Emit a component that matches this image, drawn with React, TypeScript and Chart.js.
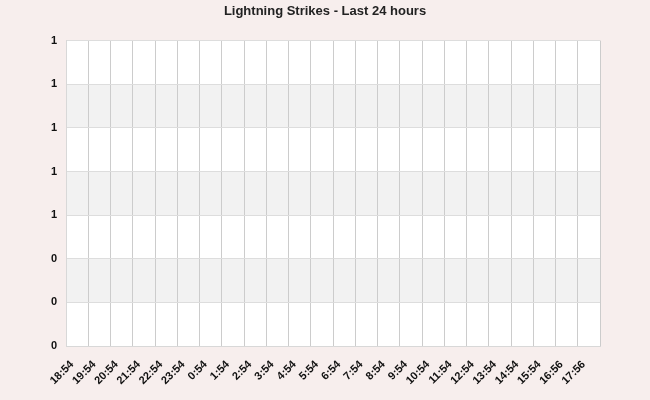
import React, { useEffect, useRef } from "react";
import { Chart, registerables } from "chart.js";

Chart.register(...registerables);

const title = "Lightning Strikes - Last 24 hours";
const hourLabels = [
  "18:54", "19:54", "20:54", "21:54", "22:54", "23:54", "0:54", "1:54",
  "2:54", "3:54", "4:54", "5:54", "6:54", "7:54", "8:54", "9:54",
  "10:54", "11:54", "12:54", "13:54", "14:54", "15:54", "16:56", "17:56", "",
];
const strikeCounts: (number | null)[] = [
  null, null, null, null, null, null, null, null, null, null, null, null,
  null, null, null, null, null, null, null, null, null, null, null, null, null,
];
const yTickValues = [0, 0.2, 0.4, 0.6, 0.8, 1.0, 1.2, 1.4];

const BG = "#f7eeed";

const bandsPlugin = {
  id: "bands",
  beforeDraw(chart: any) {
    const { ctx, chartArea } = chart;
    const y = chart.scales.y;
    ctx.save();
    ctx.fillStyle = BG;
    ctx.fillRect(0, 0, chart.width, chart.height);
    ctx.fillStyle = "#ffffff";
    ctx.fillRect(chartArea.left, chartArea.top, chartArea.right - chartArea.left, chartArea.bottom - chartArea.top);
    const ticks = y.ticks;
    for (let i = 0; i < ticks.length - 1; i++) {
      const topIdx = ticks.length - 1 - i;
      if (i % 2 === 1) {
        const y1 = y.getPixelForValue(ticks[topIdx].value);
        const y2 = y.getPixelForValue(ticks[topIdx - 1].value);
        ctx.fillStyle = "#f2f2f2";
        ctx.fillRect(chartArea.left, y1, chartArea.right - chartArea.left, y2 - y1);
      }
    }
    ctx.restore();
  },
};

export default function App() {
  const ref = useRef<HTMLCanvasElement>(null);
  useEffect(() => {
    document.body.style.margin = "0";
    document.body.style.background = BG;
    const chart = new Chart(ref.current!, {
      type: "line",
      data: {
        labels: hourLabels,
        datasets: [
          {
            label: "Strikes",
            data: strikeCounts,
            borderColor: "#4572a7",
            backgroundColor: "#4572a7",
            pointRadius: 0,
          },
        ],
      },
      plugins: [bandsPlugin],
      options: {
        responsive: false,
        animation: false,
        layout: { padding: { left: 0, right: 0, top: 0, bottom: 0 } },
        plugins: {
          legend: { display: false },
          tooltip: { enabled: false },
          title: {
            display: true,
            text: title,
            color: "#222",
            font: { family: "Liberation Sans, Arial", size: 13, weight: "bold" },
            padding: { top: 4, bottom: 21 },
          },
        },
        scales: {
          x: {
            type: "category",
            offset: false,
            grid: { color: "#cccccc", offset: false, drawTicks: false },
            border: { color: "#d8d8d8" },
            afterFit(scale: any) {
              scale.height = 54;
            },
            ticks: {
              autoSkip: false,
              maxRotation: 45,
              minRotation: 45,
              padding: 12,
              labelOffset: 6,
              color: "#111",
              font: { family: "Liberation Sans, Arial", size: 11, weight: "bold" },
            },
          },
          y: {
            min: 0,
            max: 1.4,
            afterBuildTicks(scale: any) {
              scale.ticks = yTickValues.map((v) => ({ value: v }));
            },
            afterFit(scale: any) {
              scale.width = 66;
            },
            grid: { color: "#dddddd", drawTicks: false },
            border: { color: "#d8d8d8" },
            ticks: {
              padding: 9,
              color: "#111",
              font: { family: "Liberation Sans, Arial", size: 11, weight: "bold" },
              callback: (v: any) => Number(v).toFixed(0),
            },
          },
          yRight: {
            position: "right",
            min: 0,
            max: 1.4,
            grid: { display: false, drawTicks: false },
            border: { display: false },
            ticks: { display: false },
            afterFit(scale: any) {
              scale.width = 50;
            },
          },
        },
      },
    });
    return () => chart.destroy();
  }, []);
  return (
    <div style={{ width: 650, height: 400, background: BG }}>
      <canvas ref={ref} width={650} height={400} />
    </div>
  );
}
